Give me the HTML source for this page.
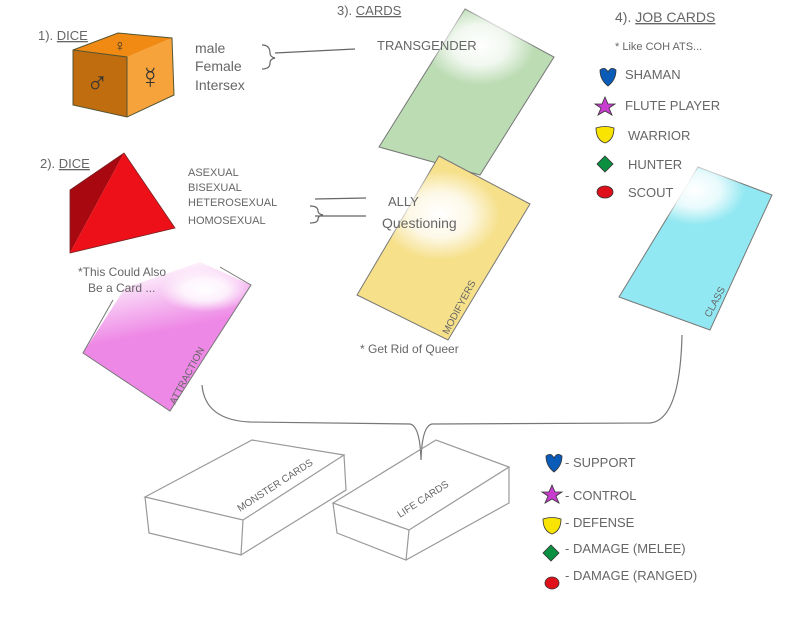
<!DOCTYPE html>
<html><head><style>
html,body{margin:0;padding:0;background:#fff;}
svg text{font-family:"Liberation Sans",sans-serif;fill:#666;}
</style></head><body>
<svg width="800" height="618" viewBox="0 0 800 618" xmlns="http://www.w3.org/2000/svg">
<defs>
<radialGradient id="hl" cx="0.5" cy="0.5" r="0.5"><stop offset="0" stop-color="#fff" stop-opacity="1"/><stop offset="0.5" stop-color="#fff" stop-opacity="0.8"/><stop offset="1" stop-color="#fff" stop-opacity="0"/></radialGradient>
<linearGradient id="pk" x1="0.45" y1="0" x2="0.55" y2="0.45"><stop offset="0" stop-color="#fff"/><stop offset="1" stop-color="#ee88e6"/></linearGradient>
</defs>
<rect width="800" height="618" fill="#fff"/>
<!-- cube -->
<polygon points="73,50 127,57 127,117 73,105" fill="#c06d10"/>
<polygon points="127,57 172,38 174,95 127,117" fill="#f6a33c" />
<polygon points="73,50 118,33 172,38 127,57" fill="#f08a12"/>
<polygon points="73,50 118,33 172,38 174,95 127,117 73,105" fill="none" stroke="#553" stroke-width="1"/>
<polyline points="73,50 127,57 127,117" fill="none" stroke="#553" stroke-width="1"/>
<text x="86" y="93" font-size="30" style="fill:#333">♂</text>
<text x="139" y="88" font-size="30" style="fill:#333">☿</text>
<text x="114" y="51" font-size="16" style="fill:#333">♀</text>
<!-- tetra -->
<polygon points="124,153 70,190 70,253" fill="#a80810"/>
<polygon points="124,153 175,228 70,253" fill="#ee1018"/>
<polygon points="124,153 175,228 70,253 70,190" fill="none" stroke="#722" stroke-width="0.8"/>
<!-- cards -->
<polygon points="465,9 554,57 480,175 379,147" fill="#bcdcb4" stroke="#777" stroke-width="1"/>
<ellipse cx="480" cy="45" rx="55" ry="40" fill="url(#hl)"/>
<polygon points="439,156 530,204 448,340 357,295" fill="#f6e08a" stroke="#777" stroke-width="1"/>
<ellipse cx="440" cy="215" rx="60" ry="45" fill="url(#hl)"/>
<polygon points="698,167 772,195 710,330 619,297" fill="#92e8f2" stroke="#777" stroke-width="1"/>
<ellipse cx="695" cy="190" rx="50" ry="35" fill="url(#hl)"/>
<polygon points="200,262 251,285 170,411 83,353 125,288" fill="url(#pk)"/>
<ellipse cx="205" cy="290" rx="45" ry="22" fill="url(#hl)"/>
<polyline points="220,267 251,285 170,411 83,353 113,300" fill="none" stroke="#777" stroke-width="1"/>
<!-- connectors -->
<path d="M275,53 L355,49 M262,45 q8,0 8,8 q0,4 5,5 q-5,1 -5,5 q0,6 -8,6" fill="none" stroke="#666" stroke-width="1.2"/>
<path d="M315,199 L366,198 M315,216 L366,216 M310,206 q8,0 8,5 q0,3 5,4 q-5,1 -5,4 q0,4 -8,4" fill="none" stroke="#666" stroke-width="1.2"/>
<path d="M202,385 Q205,420 250,422 L410,424 Q420,426 421,460 Q422,426 432,424 L650,423 Q680,420 682,335" fill="none" stroke="#777" stroke-width="1.2"/>
<!-- boxes -->
<g fill="none" stroke="#999" stroke-width="1.2">
<polygon points="145,497 252,440 344,455 243,520"/>
<polyline points="145,497 149,533 241,555 243,520"/>
<polyline points="241,555 346,490 344,455"/>
<polygon points="333,503 436,440 509,467 409,530"/>
<polyline points="333,503 337,533 406,560 409,530"/>
<polyline points="406,560 509,503 509,467"/>
</g>
<text x="240" y="512" font-size="10" transform="rotate(-33 240 512)">MONSTER CARDS</text>
<text x="400" y="518" font-size="10" transform="rotate(-33 400 518)">LIFE CARDS</text>
<!-- labels -->
<text x="38" y="40" font-size="13">1). <tspan text-decoration="underline">DICE</tspan></text>
<text x="195" y="53" font-size="14">male</text>
<text x="195" y="71" font-size="14">Female</text>
<text x="195" y="90" font-size="14">Intersex</text>
<text x="40" y="168" font-size="13">2). <tspan text-decoration="underline">DICE</tspan></text>
<text x="188" y="176" font-size="11">ASEXUAL</text>
<text x="188" y="191" font-size="11">BISEXUAL</text>
<text x="188" y="206" font-size="11">HETEROSEXUAL</text>
<text x="188" y="224" font-size="11">HOMOSEXUAL</text>
<text x="78" y="276" font-size="12">*This Could Also</text>
<text x="88" y="292" font-size="12">Be a Card ...</text>
<text x="337" y="15" font-size="13">3). <tspan text-decoration="underline">CARDS</tspan></text>
<text x="377" y="50" font-size="13">TRANSGENDER</text>
<text x="388" y="206" font-size="13">ALLY</text>
<text x="382" y="228" font-size="14">Questioning</text>
<text x="360" y="353" font-size="12">* Get Rid of Queer</text>
<text x="615" y="22" font-size="14">4). <tspan text-decoration="underline">JOB CARDS</tspan></text>
<text x="615" y="50" font-size="11">* Like COH ATS...</text>
<text x="625" y="79" font-size="13">SHAMAN</text>
<text x="625" y="110" font-size="13">FLUTE PLAYER</text>
<text x="628" y="140" font-size="13">WARRIOR</text>
<text x="628" y="169" font-size="13">HUNTER</text>
<text x="628" y="197" font-size="13">SCOUT</text>
<text x="448" y="335" font-size="10" transform="rotate(-62 448 335)">MODIFYERS</text>
<text x="710" y="318" font-size="10" transform="rotate(-62 710 318)">CLASS</text>
<text x="175" y="405" font-size="10" transform="rotate(-62 175 405)">ATTRACTION</text>
<text x="565" y="467" font-size="13">- SUPPORT</text>
<text x="565" y="500" font-size="13">- CONTROL</text>
<text x="565" y="527" font-size="13">- DEFENSE</text>
<text x="565" y="553" font-size="13">- DAMAGE (MELEE)</text>
<text x="565" y="580" font-size="13">- DAMAGE (RANGED)</text>
<!-- icons -->
<g stroke="#333" stroke-width="0.8">
<path d="M600,70 q5,-4 8,2 q3,-6 8,-2 q0,10 -8,16 q-8,-6 -8,-16z" fill="#0b5bb8"/>
<polygon points="605,97 608,104 615,104 609,108 612,115 605,111 598,115 601,108 595,104 602,104" fill="#c83cd0"/>
<path d="M596,128 q9,-3 18,0 q0,12 -9,15 q-9,-3 -9,-15z" fill="#f8e400"/>
<polygon points="605,156 613,164 605,172 597,164" fill="#0a9040"/>
<ellipse cx="605" cy="192" rx="8" ry="6" fill="#e0101a"/>
<path d="M546,456 q5,-4 8,2 q3,-6 8,-2 q0,10 -8,16 q-8,-6 -8,-16z" fill="#0b5bb8"/>
<polygon points="552,485 555,492 562,492 556,496 559,503 552,499 545,503 548,496 542,492 549,492" fill="#c83cd0"/>
<path d="M543,519 q9,-3 18,0 q0,12 -9,15 q-9,-3 -9,-15z" fill="#f8e400"/>
<polygon points="551,545 559,553 551,561 543,553" fill="#0a9040"/>
<ellipse cx="552" cy="583" rx="7" ry="6" fill="#e0101a"/>
</g>
</svg>
</body></html>
